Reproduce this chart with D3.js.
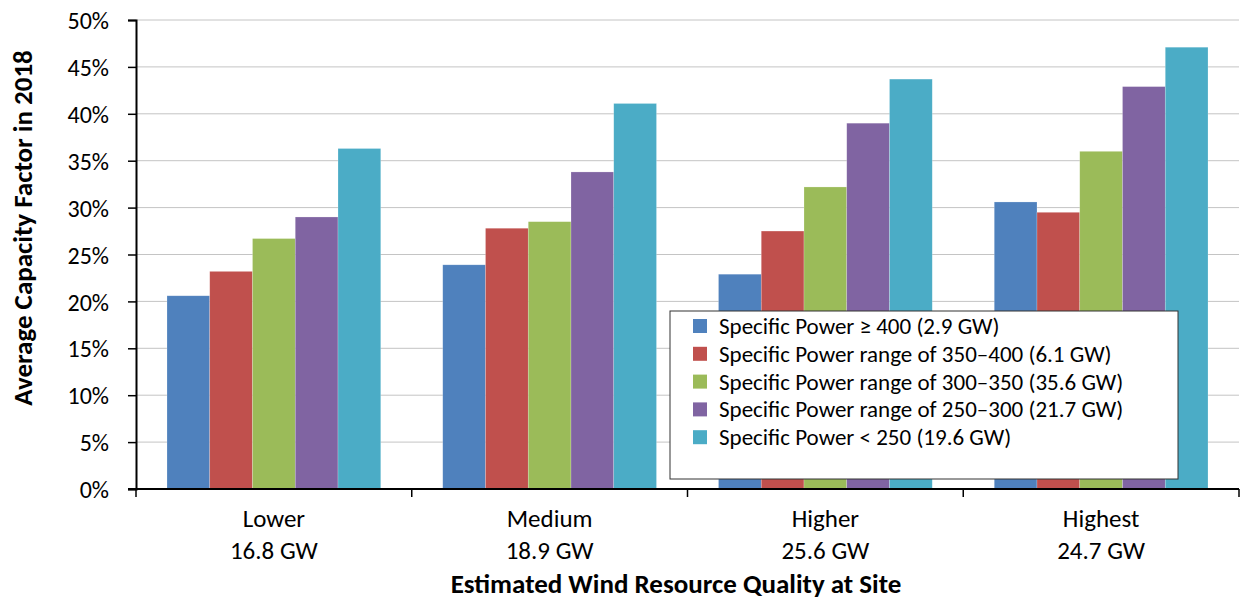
<!DOCTYPE html>
<html><head><meta charset="utf-8">
<script src="https://cdn.jsdelivr.net/npm/d3@7/dist/d3.min.js"></script>
<style>body{margin:0;background:#fff}svg{display:block;font-family:Carlito,Lato,"Open Sans",sans-serif}</style>
</head><body><svg id="c" width="1241" height="600"></svg>
<script>
const categories = ["Lower", "Medium", "Higher", "Highest"];
const categoryGW = ["16.8 GW", "18.9 GW", "25.6 GW", "24.7 GW"];
const seriesNames = [
  "Specific Power \u2265 400 (2.9 GW)",
  "Specific Power range of 350\u2013400 (6.1 GW)",
  "Specific Power range of 300\u2013350 (35.6 GW)",
  "Specific Power range of 250\u2013300 (21.7 GW)",
  "Specific Power < 250 (19.6 GW)"
];
const sp400 = [20.6, 23.9, 22.9, 30.6];
const sp350 = [23.2, 27.8, 27.5, 29.5];
const sp300 = [26.7, 28.5, 32.2, 36.0];
const sp250 = [29.0, 33.8, 39.0, 42.9];
const spLow = [36.3, 41.1, 43.7, 47.1];
const yTicks = [0, 5, 10, 15, 20, 25, 30, 35, 40, 45, 50];
const colors = ["#4F81BD", "#C0504D", "#9BBB59", "#8064A2", "#4BACC6"];
const seriesValues = [sp400, sp350, sp300, sp250, spLow];

const svg = d3.select("#c");
const L = 136, R = 1239, T = 20, B = 489;
const FS = 23;
const x = d3.scaleBand().domain(categories).range([L, R]).padding(0);
const xs = d3.scaleBand().domain(d3.range(5)).range([0, x.bandwidth()]).paddingOuter(0.725).paddingInner(0);
const y = d3.scaleLinear().domain([0, 50]).range([B, T]);

// gridlines
svg.append("g").selectAll("line").data(yTicks.filter(d => d > 0)).join("line")
  .attr("x1", L).attr("x2", R).attr("y1", d => y(d)).attr("y2", d => y(d))
  .attr("stroke", "#c4c4c4").attr("stroke-width", 1);

// bars
const g = svg.append("g");
seriesValues.forEach((vals, si) => {
  g.append("g").selectAll("rect").data(vals).join("rect")
    .attr("x", (d, i) => x(categories[i]) + xs(si))
    .attr("width", xs.bandwidth())
    .attr("y", d => y(d))
    .attr("height", d => B - y(d))
    .attr("fill", colors[si])
    .attr("stroke", "rgba(255,255,255,0.35)").attr("stroke-width", 0.6);
});

// y axis
const ya = svg.append("g").attr("transform", `translate(${L},0)`)
  .call(d3.axisLeft(y).tickValues(yTicks).tickFormat(d => d + "%").tickSize(8).tickPadding(19));
ya.attr("font-family", null).attr("font-size", null);
ya.select(".domain").attr("stroke", "#000").attr("stroke-width", 2);
ya.selectAll(".tick line").attr("stroke", "#000").attr("stroke-width", 1.5);
ya.selectAll("text").attr("font-size", 24).attr("fill", "#000").attr("dy", "0.36em");

// x axis
const xa = svg.append("g").attr("transform", `translate(0,${B})`);
xa.append("line").attr("x1", L - 8).attr("x2", R).attr("y1", 0).attr("y2", 0).attr("stroke", "#000").attr("stroke-width", 2);
const bounds = categories.map(c => x(c)).concat([R]);
xa.selectAll(".xt").data(bounds).join("line").attr("class", "xt")
  .attr("x1", d => d).attr("x2", d => d).attr("y1", 0).attr("y2", 8)
  .attr("stroke", "#000").attr("stroke-width", 1.5);
xa.selectAll(".cl").data(categories).join("text").attr("class", "cl")
  .attr("x", d => x(d) + x.bandwidth() / 2).attr("y", 38)
  .attr("text-anchor", "middle").attr("font-size", 25).text(d => d);
xa.selectAll(".cg").data(categoryGW).join("text").attr("class", "cg")
  .attr("x", (d, i) => x(categories[i]) + x.bandwidth() / 2).attr("y", 70)
  .attr("text-anchor", "middle").attr("font-size", 25).text(d => d);

// axis titles
svg.append("text").attr("x", 676).attr("y", 593).attr("text-anchor", "middle")
  .attr("font-size", 27).attr("font-weight", "bold").text("Estimated Wind Resource Quality at Site");
svg.append("text").attr("transform", `translate(32,228) rotate(-90)`)
  .attr("text-anchor", "middle").attr("font-size", 27).attr("font-weight", "bold")
  .text("Average Capacity Factor in 2018");

// legend
const lg = svg.append("g").attr("transform", "translate(670,311)");
lg.append("rect").attr("x", 0).attr("y", 0).attr("width", 508).attr("height", 168)
  .attr("fill", "#fff").attr("stroke", "#333").attr("stroke-width", 1);
const items = lg.selectAll(".li").data(seriesNames).join("g").attr("class", "li")
  .attr("transform", (d, i) => `translate(0,${15 + i * 27.8})`);
items.append("rect").attr("x", 23).attr("y", -7).attr("width", 14).attr("height", 14)
  .attr("fill", (d, i) => colors[i]);
items.append("text").attr("x", 49).attr("y", 8).attr("font-size", FS).text(d => d);
</script></body></html>
